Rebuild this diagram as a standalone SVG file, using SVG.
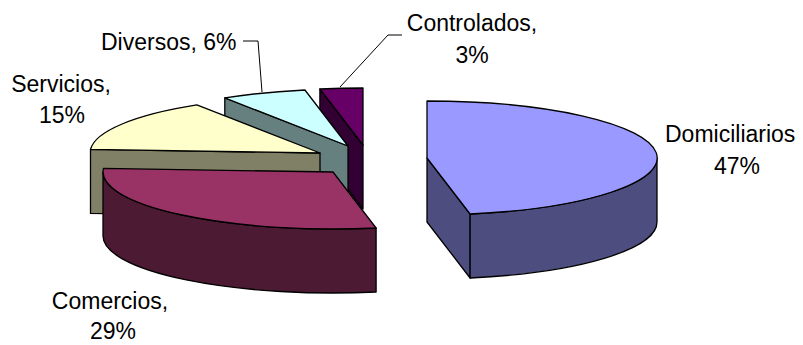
<svg xmlns="http://www.w3.org/2000/svg" width="803" height="345" viewBox="0 0 803 345">
<style>
.s{stroke:#000;stroke-width:1.3;stroke-linejoin:round}
.lbl{font-family:"Liberation Sans",Arial,sans-serif;font-size:23px;fill:#000}
.ld{fill:none;stroke:#000;stroke-width:1}
</style>
<rect width="803" height="345" fill="#fff"/>
<g id="controlados">
<path class="s" fill="#330033" d="M363,145 L319.9,89 L319.9,153 L363,209 Z"/>
<path class="s" fill="#660066" d="M363,145 L319.9,89 A230,57 0 0,1 363,88 Z"/>
<text class="lbl" x="472" y="31" text-anchor="middle">Controlados,</text>
<text class="lbl" x="472" y="63" text-anchor="middle">3%</text>
</g>
<g id="diversos">
<path class="s" fill="#668080" d="M348,146 L224.8,97.9 L224.8,161.9 L348,210 Z"/>
<path class="s" fill="#ccffff" d="M348,146 L224.8,97.9 A230,57 0 0,1 304.9,90 Z"/>
<text class="lbl" x="101" y="50">Diversos, 6%</text>
</g>
<g id="servicios">
<path class="s" fill="#808066" d="M320,153 L90.5,149.4 L90.5,213.4 L320,217 Z"/>
<path class="s" fill="#ffffcc" d="M320,153 L90.5,149.4 A230,57 0 0,1 196.8,104.9 Z"/>
<text class="lbl" x="61" y="92" text-anchor="middle">Servicios,</text>
<text class="lbl" x="62" y="123" text-anchor="middle">15%</text>
</g>
<g id="comercios">
<path class="s" fill="#4d1a33" d="M376.1,228 A230,57 0 0,1 103,172 L103,236 A230,57 0 0,0 376.1,292 Z"/>
<path class="s" fill="#993366" d="M333,172 L376.1,228 A230,57 0 0,1 103.5,168.4 Z"/>
<text class="lbl" x="110" y="309" text-anchor="middle">Comercios,</text>
<text class="lbl" x="113" y="339" text-anchor="middle">29%</text>
</g>
<g id="domiciliarios">
<path class="s" fill="#4d4d80" d="M427,158 L470.1,214 L470.1,278 L427,222 Z"/>
<path class="s" fill="#4d4d80" d="M657,158 A230,57 0 0,1 470.1,214 L470.1,278 A230,57 0 0,0 657,222 Z"/>
<path class="s" fill="#9999ff" d="M427,158 L427,101 A230,57 0 0,1 470.1,214 Z"/>
<text class="lbl" x="665" y="142">Domiciliarios</text>
<text class="lbl" x="737" y="174" text-anchor="middle">47%</text>
</g>
<g id="connectors">
<path class="ld" d="M243,41 H258 L262,92"/>
<path class="ld" d="M402,35 H388 L340,87"/>
</g>
</svg>
